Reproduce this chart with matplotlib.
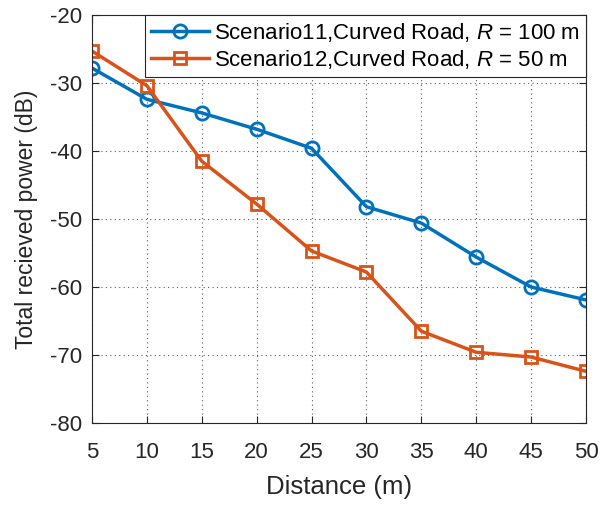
import matplotlib
matplotlib.use("Agg")
import matplotlib.pyplot as plt

plt.rcParams['font.family'] = ['Liberation Sans', 'DejaVu Sans']
plt.rcParams['mathtext.fontset'] = 'custom'
plt.rcParams['mathtext.it'] = 'Liberation Sans:italic'
plt.rcParams['mathtext.rm'] = 'Liberation Sans'
plt.rcParams['axes.unicode_minus'] = False

distance = [5, 10, 15, 20, 25, 30, 35, 40, 45, 50]
scenario11 = [-27.8, -32.4, -34.4, -36.8, -39.6, -48.2, -50.6, -55.6, -60.0, -61.9]
scenario12 = [-25.3, -30.4, -41.5, -47.8, -54.7, -57.8, -66.5, -69.6, -70.3, -72.4]
labels = ["Scenario11,Curved Road, $R$ = 100 m", "Scenario12,Curved Road, $R$ = 50 m"]
xticks = [5, 10, 15, 20, 25, 30, 35, 40, 45, 50]
yticks = [-80, -70, -60, -50, -40, -30, -20]

fig = plt.figure(figsize=(6.13, 5.08), dpi=100)
ax = fig.add_axes([92/613, 1 - 423/508, (586-92)/613, (423-15)/508])

ax.plot(distance, scenario11, color='#0072BD', lw=2.5, marker='o', ms=9.5,
        mfc='none', mew=2, label=labels[0])
ax.plot(distance, scenario12, color='#D95319', lw=2.5, marker='s', ms=8,
        mfc='none', mew=2, label=labels[1])

ax.set_xlim(5, 50)
ax.set_ylim(-80, -20)
ax.set_xticks(xticks)
ax.set_yticks(yticks)
ax.tick_params(direction='in', top=True, right=True, labelsize=16, length=5,
               colors='#262626')
ax.tick_params(axis='x', pad=14)
ax.tick_params(axis='y', pad=7)
ax.grid(True, linestyle=(0, (1, 3)), color='#333333', lw=0.8, alpha=0.8)
for s in ax.spines.values():
    s.set_color('#262626')
    s.set_linewidth(0.8)

ax.set_xlabel('Distance (m)', fontsize=18.5, color='#262626', labelpad=8)
ax.set_ylabel('Total recieved power (dB)', fontsize=16.5, color='#262626', labelpad=9)

leg = ax.legend(loc='upper right', fontsize=16, fancybox=False, framealpha=1,
                edgecolor='#262626', borderaxespad=0, handlelength=2.6,
                borderpad=0.28, labelspacing=0.18, handletextpad=0.22)
leg.get_frame().set_linewidth(0.8)

fig.savefig('out.png', dpi=100)
